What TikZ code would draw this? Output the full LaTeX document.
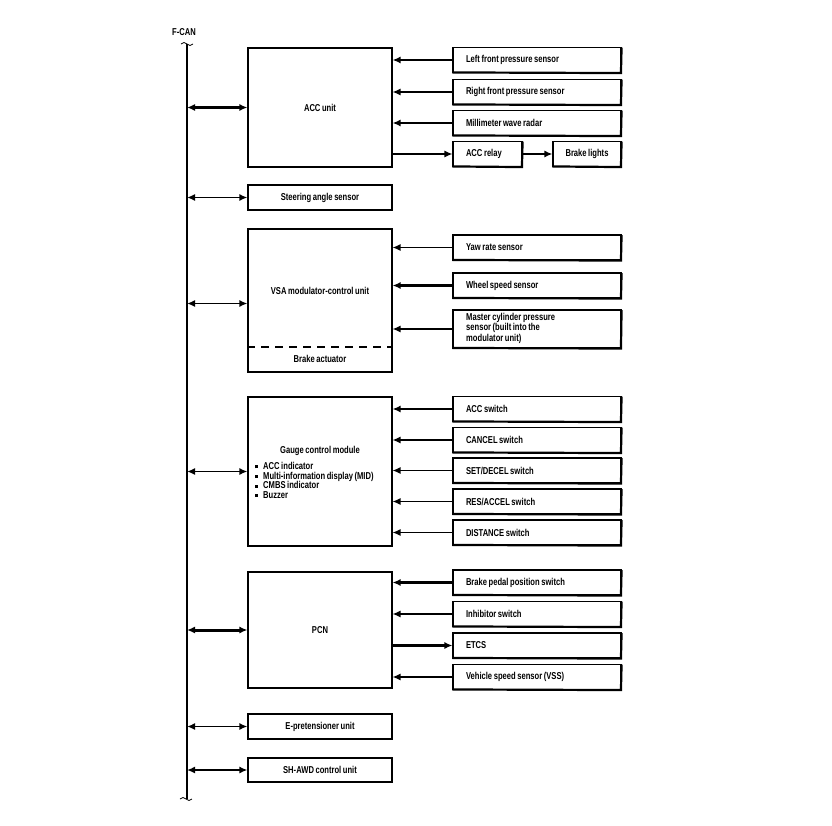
\documentclass[tikz,border=0pt]{standalone}
\usepackage{fontspec}
\setmainfont{Liberation Sans}[FakeStretch=0.76, WordSpace=0.75]
\usetikzlibrary{
		arrows.meta,
		positioning
	}
\tikzset{
		>={Latex[length=8pt,width=7pt]}
	}

\begin{document}
\begin{tikzpicture}[x=1pt, y=-1pt,
					every node/.style={font=\bfseries\fontsize{10}{11}\selectfont},
					unit/.style={draw, line width=1.1pt, minimum width=144pt},
					part/.style={draw, line width=1.1pt, minimum height=25pt, text width=142pt, inner xsep=13pt, inner ysep=0pt, align=flush left, execute at begin node={\spaceskip=0pt\xspaceskip=0pt\relax}},
					shade/.style={line width=2.2pt},
					bus/.style={line width=2pt},
					brk/.style={line width=0.8pt},
					link/.style={<->, line width=1.8pt},
					heavy link/.style={<->, line width=3pt},
					feed/.style={->, line width=1.3pt},
					heavy feed/.style={->, line width=2.6pt}]
		\path[use as bounding box] (0,0) rectangle (832,826);

		\coordinate (bustop) at (187,44);
		\coordinate (busbot) at (187,799);
		\node (fcan) at (184,32) {F-CAN};
		\draw[bus] (bustop) -- (busbot);
		\draw[brk] ([xshift=-6pt]bustop) sin ++(3,-1.5) cos ++(3,1.5) sin ++(3,1.5) cos ++(3,-1.5);
		\draw[brk] ([xshift=-7pt]busbot) sin ++(3,-1.5) cos ++(3,1.5) sin ++(3,1.5) cos ++(3,-1.5);

		\node[unit, minimum height=119pt] (acc) at (320,107.5) {ACC unit};
		\node[part] (lfp) at (537,60) {Left front pressure sensor};
		\node[part] (rfp) at (537,92) {Right front pressure sensor};
		\node[part] (mwr) at (537,123) {Millimeter wave radar};
		\node[part, text width=43pt] (relay) at (487.5,154) {ACC relay};
		\node[draw, line width=1.1pt, minimum width=68pt, minimum height=25pt, inner sep=0pt] (lights) at (587,154) {Brake lights};

		\node[unit, minimum height=25pt] (steer) at (320,197.5) {Steering angle sensor};

		\node[unit, minimum height=143pt] (vsa) at (320,300.5) {};
		\node (vsaname) at (320,291) {VSA modulator-control unit};
		\node (actuator) at (320,359) {Brake actuator};
		\coordinate (split) at (0,347);
		\draw[line width=1.6pt, dash pattern=on 8pt off 6pt] (vsa.west |- split) -- (vsa.east |- split);
		\node[part] (yaw) at (537,247.5) {Yaw rate sensor};
		\node[part] (wheel) at (537,285.5) {Wheel speed sensor};
		\node[part, minimum height=38pt] (mcp) at (537,329) {};
		\node[anchor=north west, inner sep=0pt, align=left, font=\bfseries\fontsize{10}{6.2}\selectfont] (mcptext) at (466,313) {Master cylinder pressure\\sensor (built into the\\modulator unit)};

		\node[unit, minimum height=149pt] (gcm) at (320,471.5) {};
		\node (gcmname) at (320,451) {Gauge control module};
		\node[anchor=north west, inner sep=0pt, align=left, font=\bfseries\fontsize{10}{9.6}\selectfont] (gcmlist) at (255,462)
			{\raisebox{1pt}{\rule{3pt}{3pt}}\enspace ACC indicator\\
			 \raisebox{1pt}{\rule{3pt}{3pt}}\enspace Multi-information display (MID)\\
			 \raisebox{1pt}{\rule{3pt}{3pt}}\enspace CMBS indicator\\
			 \raisebox{1pt}{\rule{3pt}{3pt}}\enspace Buzzer};
		\node[part] (accsw) at (537,409) {ACC switch};
		\node[part] (cancel) at (537,440) {CANCEL switch};
		\node[part] (setsw) at (537,470.5) {SET/DECEL switch};
		\node[part] (ressw) at (537,501.5) {RES/ACCEL switch};
		\node[part] (dist) at (537,532.5) {DISTANCE switch};

		\node[unit, minimum height=116pt] (pcm) at (320,630) {PCN};
		\node[part] (bpp) at (537,582.5) {Brake pedal position switch};
		\node[part] (inh) at (537,614) {Inhibitor switch};
		\node[part] (etcs) at (537,645.5) {ETCS};
		\node[part] (vss) at (537,677) {Vehicle speed sensor (VSS)};

		\node[unit, minimum height=25pt] (epre) at (320,726.5) {E-pretensioner unit};
		\node[unit, minimum height=24pt] (shawd) at (320,770) {SH-AWD control unit};

		\foreach \n in {lfp,rfp,mwr,relay,lights,yaw,wheel,mcp,accsw,cancel,setsw,ressw,dist,bpp,inh,etcs,vss}
			\draw[shade] ([yshift=-0.6pt]\n.north east) -- ([xshift=-0.6pt]\n.south east) -- ([yshift=0.6pt]\n.south west);

		\draw[heavy link] (acc.west -| bustop) -- (acc.west);
		\draw[link] (steer.west -| bustop) -- (steer.west);
		\draw[link] ([yshift=-3pt]vsa.west -| bustop) -- ([yshift=-3pt]vsa.west);
		\draw[link] (gcm.west -| bustop) -- (gcm.west);
		\draw[heavy link] (pcm.west -| bustop) -- (pcm.west);
		\draw[link] (epre.west -| bustop) -- (epre.west);
		\draw[link] (shawd.west -| bustop) -- (shawd.west);

		\draw[heavy feed] (lfp.west) -- (lfp.west -| acc.east);
		\draw[feed] (rfp.west) -- (rfp.west -| acc.east);
		\draw[heavy feed] (mwr.west) -- (mwr.west -| acc.east);
		\draw[feed] (relay.west -| acc.east) -- (relay.west);
		\draw[feed, line width=2pt] (relay) -- (lights);

		\draw[feed] (yaw.west) -- (yaw.west -| vsa.east);
		\draw[heavy feed] (wheel.west) -- (wheel.west -| vsa.east);
		\draw[feed] (mcp.west) -- (mcp.west -| vsa.east);

		\draw[heavy feed] (accsw.west) -- (accsw.west -| gcm.east);
		\draw[feed] (cancel.west) -- (cancel.west -| gcm.east);
		\draw[feed] (setsw.west) -- (setsw.west -| gcm.east);
		\draw[feed] (ressw.west) -- (ressw.west -| gcm.east);
		\draw[feed] (dist.west) -- (dist.west -| gcm.east);

		\draw[heavy feed] (bpp.west) -- (bpp.west -| pcm.east);
		\draw[feed] (inh.west) -- (inh.west -| pcm.east);
		\draw[heavy feed] (etcs.west -| pcm.east) -- (etcs.west);
		\draw[feed] (vss.west) -- (vss.west -| pcm.east);
	\end{tikzpicture}
\end{document}
